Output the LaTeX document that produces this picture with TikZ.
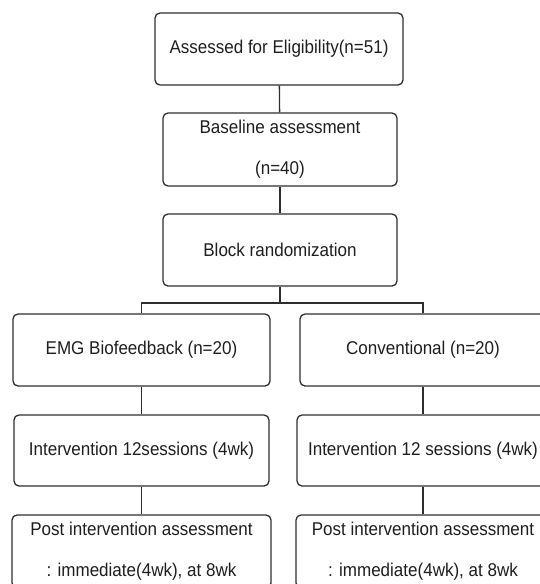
\documentclass[tikz,border=0pt]{standalone}
\usepackage{fontspec}
\setmainfont{Liberation Sans}[FakeStretch=0.92]
\definecolor{lineC}{HTML}{2E2E2E}
\definecolor{txtC}{HTML}{1E1E1E}
\tikzset{
  fbox/.style={draw=lineC, line width=1.3pt, rounded corners=5pt, inner sep=0pt,
    align=center, text=txtC, font=\fontsize{18.5}{41}\selectfont},
  conn/.style={draw=lineC, line width=1.3pt}
}
\begin{document}
\begin{tikzpicture}[x=1pt,y=-1pt]
\useasboundingbox (0,0) rectangle (540,584);
\clip (0,0) rectangle (540,584);
\node[fbox, minimum width=248pt, minimum height=72pt] (elig) at (279,49) {Assessed for Eligibility(n=51)};
\node[fbox, minimum width=234pt, minimum height=73pt] (base) at (280,149.5) {Baseline assessment\\(n=40)};
\node[fbox, minimum width=234pt, minimum height=72pt] (rand) at (280,250) {Block randomization};
\node[fbox, minimum width=257pt, minimum height=72pt] (emg) at (141.5,350) {EMG Biofeedback (n=20)};
\node[fbox, minimum width=246pt, minimum height=72pt] (conv) at (423,350) {Conventional (n=20)};
\node[fbox, minimum width=255pt, minimum height=71pt] (int1) at (141.5,450.5) {Intervention 12sessions (4wk)};
\node[fbox, minimum width=252pt, minimum height=71pt] (int2) at (423,450.5) {Intervention 12 sessions (4wk)};
\node[fbox, minimum width=259pt, minimum height=73pt] (post1) at (141.5,551.5) {Post intervention assessment\\: immediate(4wk), at 8wk};
\node[fbox, minimum width=254pt, minimum height=73pt] (post2) at (423,551.5) {Post intervention assessment\\: immediate(4wk), at 8wk};
\coordinate (br) at (280,303);
\draw[conn] (elig) -- (base);
\draw[conn] (base) -- (rand);
\draw[conn] (rand) -- (br);
\draw[conn] (emg) |- (br) -| (conv);
\draw[conn] (emg) -- (int1);
\draw[conn] (int1) -- (post1);
\draw[conn] (conv) -- (int2);
\draw[conn] (int2) -- (post2);
\end{tikzpicture}
\end{document}
